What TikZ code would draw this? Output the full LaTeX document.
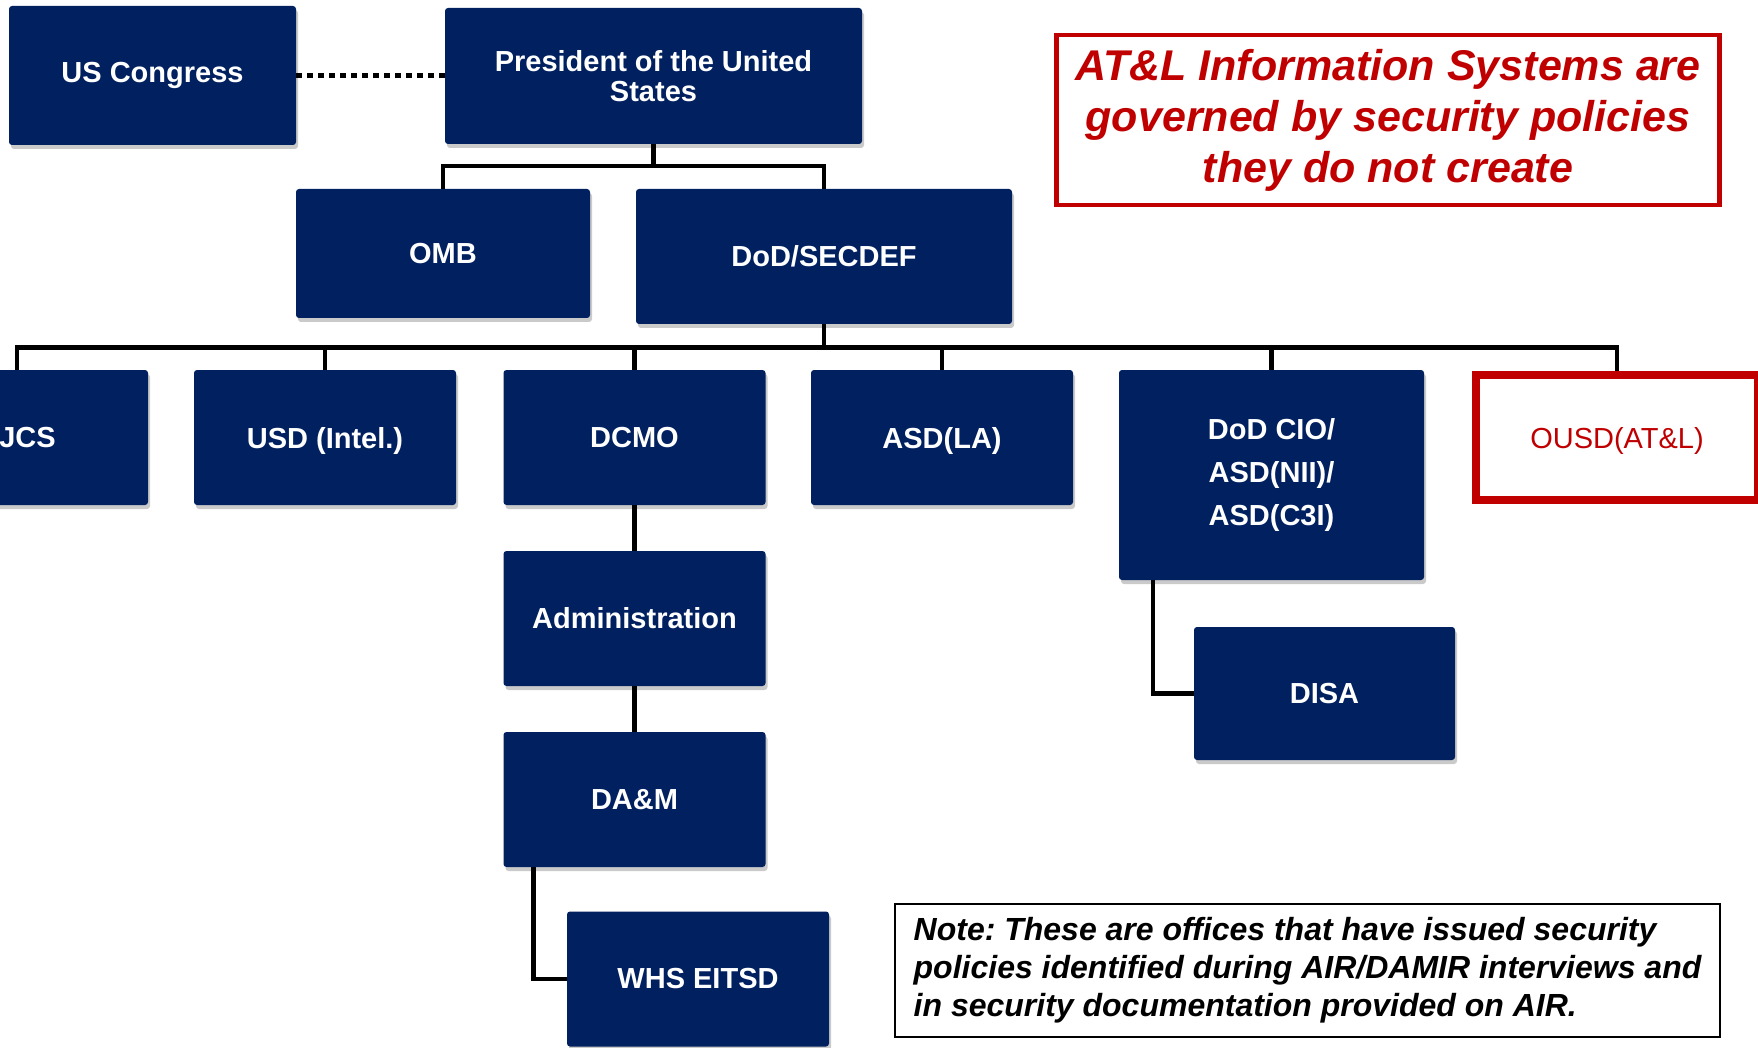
\documentclass[tikz,border=0pt]{standalone}
\usepackage{fontspec}
\setmainfont{Liberation Sans}
\usetikzlibrary{positioning,shadows}
\definecolor{navy}{HTML}{002060}
\definecolor{alertred}{HTML}{C00000}
\frenchspacing

\begin{document}
\begin{tikzpicture}[x=1pt,y=-1pt,node distance=181pt,on grid,
    office/.style={rectangle,rounded corners=3pt,fill=navy,text=white,
      font=\fontsize{29}{30}\selectfont\bfseries,align=center,inner sep=0pt,
      minimum width=262pt,minimum height=135pt,
      drop shadow={shadow xshift=2pt,shadow yshift=-4pt,opacity=.35,fill=black!60}},
    flat/.style={text depth=0pt},
    keyoffice/.style={rectangle,draw=alertred,line width=8pt,fill=white,text=alertred,
      font=\fontsize{29}{30}\selectfont,minimum width=282pt,minimum height=125pt},
    link/.style={line width=4.5pt},
    dotlink/.style={line width=5pt,dash pattern=on 6pt off 5pt}]
  \useasboundingbox (0,0) rectangle (1758,1048);
  \clip (0,0) rectangle (1758,1048);

  % top levels
  \node[office,minimum width=287pt,minimum height=139pt] (cong) at (152.5,75.5) {US Congress};
  \node[office,minimum width=417pt,minimum height=136pt] (pres) at (653.5,76) {President of the United\\States};
  \node[office,minimum width=294pt,minimum height=129pt] (omb) at (443,253.5) {OMB};
  \node[office,minimum width=376pt] (secdef) at (824,256.5) {DoD/SECDEF};

  % offices under SECDEF
  \node[office] (jcs) at (17,437.5) {\hspace*{21pt}JCS};
  \node[office,flat] (usd) at (325,437.5) {USD (Intel.)};
  \node[office] (dcmo) at (634.5,437.5) {DCMO};
  \node[office,flat] (asd) at (942,437.5) {ASD(LA)};
  \node[office,minimum width=305pt,minimum height=210pt,
    font=\fontsize{29}{42.6}\selectfont\bfseries] (cio) at (1271.5,475) {DoD CIO/\\ASD(NII)/\\ASD(C3I)};
  \node[keyoffice,flat] (ousd) at (1617,437.5) {OUSD(AT\&L)};

  \node[office] (admin) [below=of dcmo] {Administration};
  \node[office] (dam) [below=of admin] {DA\&M};
  \node[office] (whs) at (698,979) {WHS EITSD};
  \node[office,minimum width=261pt,minimum height=133pt] (disa) at (1324.5,693.5) {DISA};

  % call-outs
  \node[draw=alertred,line width=4.5pt,text=alertred,align=center,
    minimum width=663pt,minimum height=170pt,
    font=\fontsize{43}{51}\selectfont\bfseries\itshape] (claim) at (1388,120)
    {AT\&L Information Systems are\\governed by security policies\\they do not create};
  \node[draw=black,line width=2pt,align=left,
    minimum width=825pt,minimum height=133pt,
    font=\fontsize{32}{38}\selectfont\bfseries\itshape] (note) at (1307.5,970)
    {Note: These are offices that have issued security\\policies identified during AIR/DAMIR interviews and\\in security documentation provided on AIR.};

  % connectors
  \draw[dotlink] (cong.east) -- (cong.east -| pres.west);
  \draw[link] (pres.south) -- ++(0,22) -| (omb.north);
  \draw[link] (pres.south) -- ++(0,22) -| (secdef.north);
  \foreach \n in {jcs,usd,dcmo,asd,cio,ousd}
    \draw[link] (secdef.south) -- ++(0,23.5) -| (\n.north);
  \draw[link] (dcmo.south) -- (admin.north);
  \draw[link] (admin.south) -- (dam.north);
  \draw[link] ([xshift=30pt]dam.south west) |- (whs.west);
  \draw[link] ([xshift=34pt]cio.south west) |- (disa.west);
\end{tikzpicture}
\end{document}
